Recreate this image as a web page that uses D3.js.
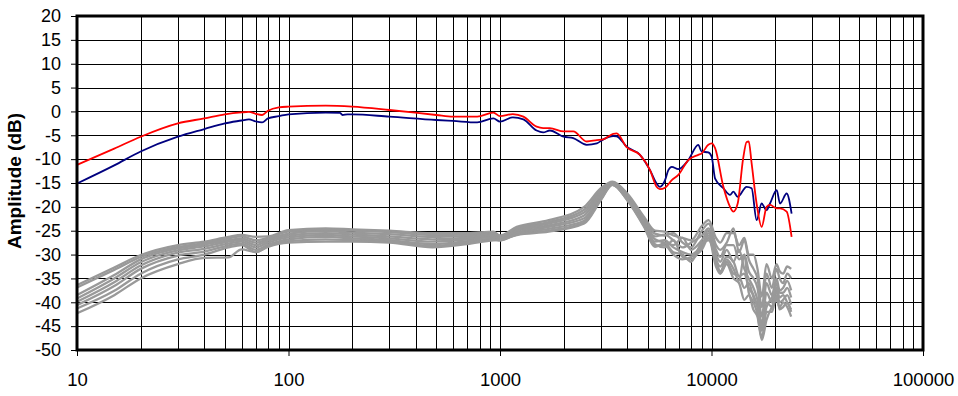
<!DOCTYPE html>
<html>
<head>
<meta charset="utf-8">
<script src="https://cdn.jsdelivr.net/npm/d3@7"></script>
<style>
  body { margin: 0; background: #fff; }
  text { font-family: Arial, "Liberation Sans", sans-serif; }
</style>
</head>
<body>
<svg id="svg"></svg>
<script>
const W = 958, H = 396;
const m = {top: 16, right: 35, bottom: 46, left: 77};

const yTicks = [20, 15, 10, 5, 0, -5, -10, -15, -20, -25, -30, -35, -40, -45, -50];
const xTicks = [10, 100, 1000, 10000, 100000];

// red curve [Hz, dB]
const redCurve = [[10,-11.2],[15,-7.8],[20,-5.3],[30,-2.5],[40,-1.45],[50,-0.6],[60,-0.2],[65,-0.1],[70,-0.5],[75,-0.75],[80,0.15],[90,0.85],[100,1.0],[150,1.2],[200,1.0],[300,0.3],[500,-0.75],[600,-1.1],[780,-1.1],[930,-0.25],[1000,-1.0],[1150,-0.55],[1290,-1.1],[1490,-3.2],[1600,-3.5],[1720,-3.5],[2000,-4.2],[2220,-4.2],[2570,-6.3],[2870,-6.0],[3080,-5.85],[3430,-4.7],[3560,-4.6],[3970,-7.5],[4590,-9.1],[5120,-12.3],[5500,-15.8],[5700,-16.3],[6030,-16.0],[6490,-14.4],[6970,-13.3],[7770,-10.2],[8660,-9.1],[8980,-8.8],[9660,-7.0],[10020,-6.7],[10400,-7.7],[11380,-15.8],[12240,-20.0],[12690,-21.0],[13300,-19.3],[14100,-10.0],[14660,-6.4],[15000,-6.3],[15480,-10.9],[16340,-19.3],[17260,-24.2],[18220,-20.0],[18910,-19.6],[20340,-20.3],[21090,-20.3],[22670,-21.0],[23920,-26.3]];

// blue curve [Hz, dB]
const blueCurve = [[10,-15.1],[15,-11.3],[20,-8.4],[30,-5.3],[40,-3.7],[50,-2.5],[60,-1.9],[65,-1.65],[70,-2.1],[75,-2.3],[80,-1.45],[90,-1.0],[100,-0.6],[150,-0.25],[175,-0.3],[180,-0.75],[190,-0.6],[200,-0.6],[300,-1.1],[500,-1.8],[600,-2.0],[780,-2.3],[930,-1.45],[1000,-2.15],[1150,-1.25],[1290,-1.65],[1490,-4.0],[1600,-4.4],[1720,-4.0],[2000,-5.3],[2220,-5.6],[2570,-7.0],[2870,-6.7],[3080,-5.85],[3430,-5.15],[3560,-5.2],[3970,-7.4],[4590,-9.1],[5120,-12.3],[5500,-15.1],[5700,-15.8],[6030,-14.4],[6250,-12.3],[6490,-11.6],[6970,-12.1],[7770,-10.2],[8660,-7.0],[8980,-8.4],[9660,-8.6],[10020,-9.5],[10400,-14.1],[11380,-16.1],[12240,-17.5],[12690,-16.8],[13300,-17.9],[14660,-15.8],[15480,-16.1],[16340,-22.8],[17260,-19.3],[18220,-20.7],[18910,-19.3],[20340,-16.5],[21090,-19.3],[22670,-17.2],[23920,-21.4]];

// gray curves, shared frequencies
const grayFreq = [10,15,20,30,40,52,60,70,80,100,150,200,300,480,700,930,1000,1200,1700,2500,3000,3400,4000,4800,5400,6000,6600,7300,8000,9000,9700,10500,11000,11800,12700,13500,14300,15000,15800,16500,17300,18200,19300,20300,21000,21800,22800,23800];
const gray1 = [-36.4,-32.7,-30.1,-28.0,-27.3,-26.3,-25.9,-26.3,-26.2,-24.9,-24.5,-24.7,-25.0,-25.5,-25.5,-25.2,-26.0,-24.2,-22.8,-20.0,-16.1,-14.7,-17.2,-22.1,-25.0,-25.2,-26.0,-26.5,-27.0,-24.0,-22.8,-26.5,-27.5,-25.5,-25.5,-28.0,-26.5,-30.0,-30.0,-33.0,-38.8,-32.0,-35.0,-32.0,-33.5,-34.0,-32.5,-33.0];
const gray2 = [-36.9,-33.2,-30.5,-28.4,-27.6,-26.6,-26.2,-27.0,-26.5,-25.2,-24.8,-25.0,-25.3,-25.9,-25.8,-25.5,-26.2,-24.5,-23.2,-20.6,-16.5,-14.9,-17.5,-22.5,-25.6,-26.0,-25.5,-27.5,-28.5,-25.0,-23.5,-28.0,-29.0,-27.5,-24.5,-29.5,-27.0,-31.0,-33.0,-35.0,-41.0,-34.0,-37.0,-33.0,-35.0,-36.0,-34.0,-35.0];
const gray3 = [-38.5,-34.3,-31.0,-28.7,-27.9,-27.0,-26.6,-27.5,-26.8,-25.6,-25.1,-25.4,-25.7,-26.3,-26.1,-25.8,-26.5,-24.8,-23.5,-21.2,-16.9,-15.0,-17.8,-22.8,-26.2,-25.8,-27.0,-28.5,-27.5,-26.0,-24.5,-29.0,-30.5,-28.0,-28.0,-31.0,-30.0,-33.5,-35.0,-37.0,-43.0,-36.0,-38.5,-35.0,-37.5,-37.0,-35.5,-37.5];
const gray4 = [-39.2,-35.0,-31.6,-29.1,-28.3,-27.3,-26.9,-28.0,-27.1,-26.0,-25.5,-25.8,-26.2,-26.8,-26.5,-26.1,-26.7,-25.1,-23.9,-21.8,-17.3,-15.1,-18.0,-23.1,-26.8,-27.5,-28.0,-26.5,-29.0,-27.0,-25.0,-30.0,-31.5,-29.0,-31.5,-29.0,-33.0,-35.0,-37.0,-39.5,-44.5,-38.0,-40.0,-36.0,-38.0,-38.0,-37.0,-39.0];
const gray5 = [-39.9,-35.8,-32.3,-29.6,-28.8,-27.7,-27.3,-28.5,-27.5,-26.4,-25.9,-26.2,-26.6,-27.3,-26.8,-26.4,-26.9,-25.4,-24.2,-22.4,-17.7,-15.2,-18.2,-23.4,-27.3,-27.0,-28.5,-29.5,-30.0,-28.0,-25.5,-31.0,-32.5,-30.5,-31.5,-34.5,-34.0,-37.0,-38.5,-41.0,-46.0,-40.0,-41.0,-37.5,-40.0,-39.5,-38.5,-40.5];
const gray6 = [-40.6,-36.6,-33.0,-30.2,-29.4,-28.1,-27.7,-29.0,-27.9,-26.8,-26.3,-26.6,-27.0,-27.8,-27.2,-26.7,-27.0,-25.6,-24.6,-22.9,-18.1,-15.3,-18.4,-23.7,-27.8,-28.5,-27.0,-30.5,-31.0,-28.5,-26.0,-31.5,-33.5,-31.0,-33.0,-35.5,-30.0,-38.0,-40.0,-42.5,-47.5,-42.0,-42.0,-38.5,-41.5,-41.0,-40.0,-42.0];
const gray7 = [-41.3,-37.6,-34.0,-31.0,-30.0,-28.5,-28.0,-29.5,-28.2,-27.2,-26.8,-27.0,-27.3,-28.2,-27.5,-26.9,-27.0,-25.8,-25.0,-23.3,-18.4,-15.4,-18.6,-24.0,-28.2,-28.0,-30.0,-31.0,-30.5,-29.0,-26.5,-32.5,-34.0,-32.0,-35.0,-36.0,-39.5,-38.5,-41.6,-43.0,-47.9,-43.7,-41.0,-39.5,-41.0,-40.0,-41.0,-43.0];
const gray8 = [-42.3,-38.5,-35.0,-32.0,-30.7,-30.6,-28.9,-29.5,-28.4,-27.5,-27.3,-27.3,-27.5,-28.5,-27.8,-27.0,-26.9,-25.9,-25.2,-23.5,-18.6,-15.4,-18.6,-24.2,-28.4,-27.6,-29.5,-30.0,-31.5,-27.5,-27.0,-31.0,-34.0,-31.5,-34.0,-34.5,-37.0,-36.0,-39.0,-41.0,-45.0,-41.0,-39.0,-37.0,-39.0,-38.5,-40.0,-41.5];
const grays = [gray1, gray2, gray3, gray4, gray5, gray6, gray7, gray8];

const svg = d3.select("#svg").attr("width", W).attr("height", H);
const iw = W - m.left - m.right, ih = H - m.top - m.bottom;
const g = svg.append("g").attr("transform", `translate(${m.left},${m.top})`);

const x = d3.scaleLog().domain([10, 100000]).range([0, iw]);
const y = d3.scaleLinear().domain([-50, 20]).range([ih, 0]);

// grid
const minor = [];
for (let d = 10; d < 100000; d *= 10)
  for (let k = 1; k <= 9; k++) minor.push(d * k);
minor.push(100000);

g.append("g").selectAll("line")
  .data(minor)
  .enter().append("line")
  .attr("x1", d => Math.round(x(d)) + 0.5).attr("x2", d => Math.round(x(d)) + 0.5)
  .attr("y1", 0).attr("y2", ih)
  .attr("stroke", "#000").attr("stroke-width", 1);

g.append("g").selectAll("line")
  .data(yTicks)
  .enter().append("line")
  .attr("x1", 0).attr("x2", iw)
  .attr("y1", d => Math.round(y(d)) + 0.5).attr("y2", d => Math.round(y(d)) + 0.5)
  .attr("stroke", "#000").attr("stroke-width", 1);

const line = d3.line()
  .x(d => x(d[0]))
  .y(d => y(d[1]))
  .curve(d3.curveMonotoneX);

g.append("g").selectAll("path")
  .data(grays)
  .enter().append("path")
  .attr("d", vals => line(vals.map((v, i) => [grayFreq[i], v])))
  .attr("fill", "none")
  .attr("stroke", "#999999")
  .attr("stroke-width", 2.3)
  .attr("stroke-linejoin", "round");

g.append("path").attr("d", line(blueCurve))
  .attr("fill", "none").attr("stroke", "#00007f").attr("stroke-width", 1.8);
g.append("path").attr("d", line(redCurve))
  .attr("fill", "none").attr("stroke", "#ff0000").attr("stroke-width", 1.8);

// frame
g.append("rect").attr("x", 0).attr("y", 0).attr("width", iw).attr("height", ih)
  .attr("fill", "none").attr("stroke", "#000").attr("stroke-width", 3);

// axes
const yAxis = g.append("g")
  .call(d3.axisLeft(y).tickValues(yTicks).tickSize(6).tickPadding(10).tickFormat(d => String(d)));
const xAxis = g.append("g").attr("transform", `translate(0,${ih})`)
  .call(d3.axisBottom(x).tickValues(xTicks).tickSize(6).tickPadding(17).tickFormat(d => String(d)));
[yAxis, xAxis].forEach(a => {
  a.select(".domain").remove();
  a.selectAll("line").attr("stroke", "#000").attr("stroke-width", 1);
  a.selectAll("text").style("font-size", "18px").attr("fill", "#000");
});
xAxis.selectAll("text").style("font-size", "18.5px");

svg.append("text")
  .attr("transform", `translate(21,${m.top + ih / 2 - 2}) rotate(-90)`)
  .attr("text-anchor", "middle")
  .style("font-size", "19px")
  .style("font-weight", "bold")
  .text("Amplitude (dB)");
</script>
</body>
</html>
